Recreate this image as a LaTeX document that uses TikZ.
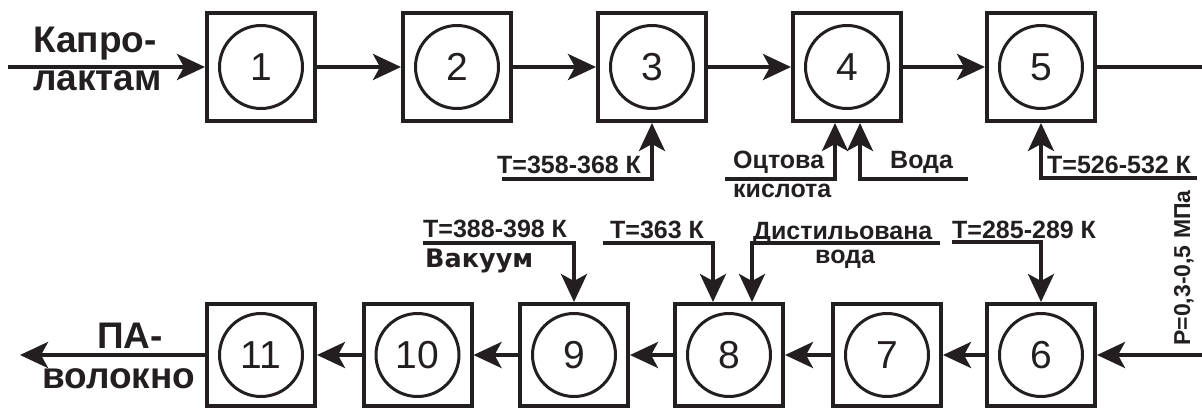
\documentclass[tikz,border=0pt]{standalone}
\usepackage{fontspec}
\setmainfont{Liberation Sans}
\newfontfamily\vakfont{DejaVu Sans}
\usetikzlibrary{arrows.meta}
\definecolor{ink}{RGB}{35,31,32}
\tikzset{
  box/.style={draw=ink, line width=4pt, minimum width=108pt, inner sep=0pt},
  topbox/.style={box, minimum height=108pt},
  botbox/.style={box, minimum height=102pt},
  circ/.style={draw=ink, circle, line width=3pt, minimum size=83pt, inner sep=0pt,
    text=ink, font=\fontsize{39}{41}\selectfont},
  arr/.style={draw=ink, line width=4pt, -{Stealth[length=28pt,width=26pt,inset=7pt]}},
  ln/.style={draw=ink, line width=4pt},
  lbl/.style={anchor=base west, inner sep=0pt, text=ink, font=\bfseries\fontsize{25}{28}\selectfont},
  big/.style={anchor=base west, inner sep=0pt, text=ink, font=\bfseries\fontsize{37}{40}\selectfont},
}
\begin{document}
\begin{tikzpicture}[x=1pt,y=-1pt]
\useasboundingbox (0,0) rectangle (1202,409);
% top row
\foreach \n/\x in {1/261,2/457,3/652,4/847,5/1041}{
  \node[topbox] (b\n) at (\x,67) {};
  \node[circ] (c\n) at (b\n) {\n};
}
% bottom row
\foreach \n/\x in {6/1041,7/887,8/729,9/574,10/417.5,11/261}{
  \node[botbox] (b\n) at (\x,355) {};
  \node[circ] (c\n) at (b\n) {\n};
}
% main flow
\coordinate (in) at (8,67);
\coordinate (r5) at (1204,67);
\coordinate (r6) at (1204,355);
\coordinate (out) at (20,355);
\draw[arr] (in) -- (b1.west);
\draw[arr] (b1.east) -- (b2.west);
\draw[arr] (b2.east) -- (b3.west);
\draw[arr] (b3.east) -- (b4.west);
\draw[arr] (b4.east) -- (b5.west);
\draw[ln] (b5.east) -- (r5);
\draw[arr] (r6) -- (b6.east);
\draw[arr] (b6.west) -- (b7.east);
\draw[arr] (b7.west) -- (b8.east);
\draw[arr] (b8.west) -- (b9.east);
\draw[arr] (b9.west) -- (b10.east);
\draw[arr] (b10.west) -- (b11.east);
\draw[arr] (b11.west) -- (out);
% side inputs top
\coordinate (s3) at (502,179);
\coordinate (s4a) at (725,179);
\coordinate (s4b) at (968,179);
\coordinate (s5) at (1197,178);
\draw[arr] (s3) -| (b3.south);
\draw[arr] (s4a) -| ([xshift=-12pt]b4.south);
\draw[arr] (s4b) -| ([xshift=13pt]b4.south);
\draw[arr] (s5) -| (b5.south);
% side inputs bottom
\coordinate (s9) at (423,243);
\coordinate (s8a) at (603,243);
\coordinate (s8b) at (940,243);
\coordinate (s6) at (952,242);
\draw[arr] (s9) -| (b9.north);
\draw[arr] (s8a) -| ([xshift=-16pt]b8.north);
\draw[arr] (s8b) -| ([xshift=23pt]b8.north);
\draw[arr] (s6) -| (b6.north);
% texts
\node[big] (tk1) at (33,53) {Капро-};
\node[big] (tk2) at (33,91) {лактам};
\node[big] (tp1) at (97,348) {ПА-};
\node[big] (tp2) at (42,388) {волокно};
\node[lbl] (t3) at (497,173) {Т=358-368 К};
\node[lbl] (t4a) at (733,168) {Оцтова};
\node[lbl] (t4b) at (733,197) {кислота};
\node[lbl] (t4c) at (890,168) {Вода};
\node[lbl] (t5) at (1047,173) {Т=526-532 К};
\node[lbl] (t9) at (423,237) {Т=388-398 К};
\node[anchor=base west, inner sep=0pt, text=ink, font=\vakfont\bfseries\fontsize{25.5}{27}\selectfont] (t9b) at (425,267) {Вакуум};
\node[lbl] (t8a) at (610,238) {Т=363 К};
\node[lbl] (t8b) at (753,239) {Дистильована};
\node[lbl] (t8c) at (815,263) {вода};
\node[lbl] (t6) at (952,238) {Т=285-289 К};
\node[lbl, anchor=base, rotate=90, font=\bfseries\fontsize{23}{25}\selectfont] (tp) at (1190,268) {Р=0,3-0,5 МПа};
\end{tikzpicture}
\end{document}
